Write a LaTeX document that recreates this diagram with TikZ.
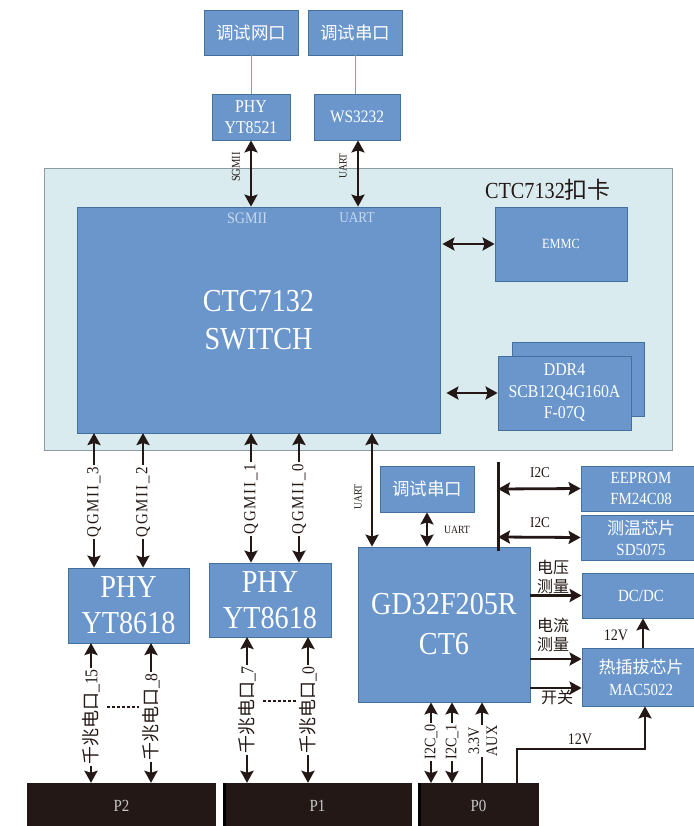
\documentclass[tikz,border=0pt]{standalone}
\usepackage{fontspec}
\setmainfont{Liberation Serif}[FakeStretch=0.88]
\newfontfamily\cjk{Noto Sans CJK SC}
\usetikzlibrary{arrows.meta}
\definecolor{boxblue}{HTML}{6A96CC}
\definecolor{boxedge}{HTML}{41719C}
\definecolor{board}{HTML}{DAEBF0}
\definecolor{boardedge}{HTML}{8C9BA0}
\definecolor{ink}{HTML}{231815}
\definecolor{thinline}{HTML}{7FA890}
\definecolor{ptext}{HTML}{C8C8C8}
\definecolor{faint}{HTML}{C9D8EC}
\newcommand\myfs[2]{\fontsize{#1}{#2}\selectfont}
\newcommand\spaced{\addfontfeature{LetterSpace=10}}
\begin{document}
\begin{tikzpicture}[x=1pt,y=-1pt,
  blk/.style={draw=boxedge,fill=boxblue,line width=0.8pt,text=white,align=center,inner sep=0pt},
  pbox/.style={fill=ink,draw=none,text=ptext,inner sep=0pt,font=\myfs{17}{20}},
  darr/.style={draw=ink,line width=2.8pt,{Stealth[length=12pt,width=13pt,inset=2pt]}-{Stealth[length=12pt,width=13pt,inset=2pt]}},
  sarr/.style={draw=ink,line width=2.8pt,-{Stealth[length=12pt,width=13pt,inset=2pt]}},
  lbl/.style={text=ink,inner sep=1pt},
  rlbl/.style={text=ink,inner sep=1.5pt,fill=white,rotate=90},
  thinln/.style={draw=thinline,line width=0.8pt},
]
\useasboundingbox (0,0) rectangle (693,826);

% ---------- top ----------
\node[blk,minimum width=94pt,minimum height=45pt,font=\cjk\myfs{17.5}{20}] (dwk) at (251,32.5) {调试网口};
\node[blk,minimum width=94pt,minimum height=45pt,font=\cjk\myfs{17.5}{20}] (dck) at (355,32.5) {调试串口};
\node[blk,minimum width=78pt,minimum height=46pt,font=\myfs{18}{21}] (phy1) at (251,117) {PHY\\YT8521};
\node[blk,minimum width=86pt,minimum height=46pt,font=\myfs{17.5}{21}] (ws) at (357,117) {WS3232};
\draw[thinln] (dwk.south) -- (phy1.north);
\draw[thinln] (dck.south) -- (dck.south |- ws.north);

% ---------- board ----------
\node[draw=boardedge,fill=board,line width=0.6pt,minimum width=628pt,minimum height=282pt,inner sep=0pt] (board) at (358,309) {};
\node[lbl,font=\myfs{23}{26}] (brdlbl) at (548,190) {CTC7132{\cjk 扣卡}};
\node[blk,minimum width=363pt,minimum height=226pt,font=\myfs{32}{38}] (sw) at (258.5,320) {CTC7132\\SWITCH};
\node[text=faint,font=\myfs{16}{18},inner sep=0pt] (swsg) at (247,218) {SGMII};
\node[text=faint,font=\myfs{15}{18},inner sep=0pt] (swua) at (357,218) {UART};
\node[blk,minimum width=132pt,minimum height=74pt,font=\myfs{14}{17}] (emmc) at (561,244) {EMMC};
\node[blk,minimum width=132pt,minimum height=74pt] (ddrb) at (578,379) {};
\node[blk,minimum width=133pt,minimum height=74pt,font=\myfs{18}{21.5}] (ddr) at (564.5,393) {DDR4\\SCB12Q4G160A\\F-07Q};

\draw[darr] (phy1.south) -- (phy1.south |- sw.north);
\draw[darr] ([xshift=1pt]ws.south) -- ([xshift=1pt]ws.south |- sw.north);
\node[lbl,rotate=90,font=\myfs{12}{14}] (sglbl) at (236,167) {SGMII};
\node[lbl,rotate=90,font=\myfs{11}{13}] (ualbl) at (343,166) {UART};
\draw[darr] ([xshift=2pt]sw.east |- emmc.west) -- (emmc.west);
\draw[darr] ([xshift=6pt]sw.east |- ddr.west) -- (ddr.west);

% ---------- PHY YT8618 ----------
\node[blk,minimum width=121pt,minimum height=75pt,font=\myfs{32}{36}] (phyA) at (128.5,605.5) {PHY\\YT8618};
\node[blk,minimum width=122pt,minimum height=74pt,font=\myfs{32}{36}] (phyB) at (270,600) {PHY\\YT8618};

\coordinate (q3) at (94,433);
\coordinate (q2) at (143,433);
\coordinate (q1) at (251,433);
\coordinate (q0) at (299,433);
\draw[darr] (q3) -- (q3 |- phyA.north);
\draw[darr] (q2) -- (q2 |- phyA.north);
\draw[darr] (q1) -- (q1 |- phyB.north);
\draw[darr] (q0) -- (q0 |- phyB.north);
\node[rlbl,font=\spaced\myfs{17}{18}] (lq3) at (94,502) {QGMII\_3};
\node[rlbl,font=\spaced\myfs{17}{18}] (lq2) at (143,502) {QGMII\_2};
\node[rlbl,font=\spaced\myfs{17}{18}] (lq1) at (251,499) {QGMII\_1};
\node[rlbl,font=\spaced\myfs{17}{18}] (lq0) at (299,499) {QGMII\_0};

% ---------- P boxes ----------
\node[pbox,minimum width=189pt,minimum height=46pt] (p2) at (121.5,806) {P2};
\node[pbox,minimum width=189pt,minimum height=46pt] (p1) at (317.5,806) {P1};
\node[pbox,minimum width=121pt,minimum height=46pt] (p0) at (478.5,806) {P0};
\draw[black,line width=3pt] ([xshift=1.5pt]p1.north west) -- ([xshift=1.5pt]p1.south west);
\draw[black,line width=3pt] ([xshift=1.5pt]p0.north west) -- ([xshift=1.5pt]p0.south west);

\coordinate (g15) at (91,643);
\coordinate (g8) at (151,643);
\coordinate (g7) at (247,637);
\coordinate (g0) at (308,637);
\draw[darr] (g15) -- (g15 |- p2.north);
\draw[darr] (g8) -- (g8 |- p2.north);
\draw[darr] (g7) -- (g7 |- p1.north);
\draw[darr] (g0) -- (g0 |- p1.north);
\node[rlbl,font=\myfs{18}{18}] (lg15) at (91,717) {{\cjk 千兆电口}\_15};
\node[rlbl,font=\myfs{18}{18}] (lg8) at (151,717) {{\cjk 千兆电口}\_8};
\node[rlbl,font=\myfs{18}{18}] (lg7) at (247,710) {{\cjk 千兆电口}\_7};
\node[rlbl,font=\myfs{18}{18}] (lg0) at (308,710) {{\cjk 千兆电口}\_0};
\coordinate (d1a) at (107,707);
\coordinate (d1b) at (139,707);
\coordinate (d2a) at (263,701);
\coordinate (d2b) at (296,701);
\draw[ink,line width=2pt,dash pattern=on 3pt off 2pt] (d1a) -- (d1b);
\draw[ink,line width=2pt,dash pattern=on 3pt off 2pt] (d2a) -- (d2b);

% ---------- GD32 ----------
\node[blk,minimum width=172pt,minimum height=155pt,font=\myfs{32}{40}] (gd) at (444,624.5) {GD32F205R\\CT6};
\node[blk,minimum width=94pt,minimum height=46pt,font=\cjk\myfs{17.5}{20}] (dbg) at (427,489) {调试串口};
\coordinate (u2) at (372,433);
\draw[darr] (u2) -- (u2 |- gd.north);
\node[lbl,rotate=90,font=\myfs{11}{13}] (ualbl2) at (358,497) {UART};
\draw[darr] (dbg.south) -- (dbg.south |- gd.north);
\node[lbl,font=\myfs{11}{13}] (ualbl3) at (457,530) {UART};

\node[blk,minimum width=120pt,minimum height=45pt,font=\myfs{17}{21}] (eep) at (641,488.5) {EEPROM\\FM24C08};
\node[blk,minimum width=120pt,minimum height=45pt,font=\myfs{17}{21}] (temp) at (641,537.5) {{\cjk 测温芯片}\\SD5075};
\node[blk,minimum width=118pt,minimum height=45pt,font=\myfs{17}{21}] (dcdc) at (641,595.5) {DC/DC};
\node[blk,minimum width=118pt,minimum height=58pt,font=\myfs{17}{22}] (hot) at (641,677) {{\cjk 热插拔芯片}\\MAC5022};

\coordinate (busT) at (498,462);
\coordinate (busB) at (498,551);
\coordinate (busI1) at (498,489);
\coordinate (busI2) at (498,537);
\draw[ink,line width=3pt] (busT) -- (busB);
\draw[darr] (busI1) -- (eep.west);
\draw[darr] (busI2) -- (temp.west);
\node[lbl,font=\myfs{15}{18}] (i2c1) at (540,473) {I2C};
\node[lbl,font=\myfs{15}{18}] (i2c2) at (540,523) {I2C};

\node[lbl,font=\cjk\myfs{16}{19},align=center] (vlbl) at (553,577) {电压\\测量};
\node[lbl,font=\cjk\myfs{16}{19},align=center] (ilbl) at (553,635) {电流\\测量};
\node[lbl,font=\cjk\myfs{16}{19}] (swlbl) at (557,697) {开关};
\coordinate (hi) at (530,659);
\coordinate (hs) at (530,688);
\draw[sarr] (gd.east |- dcdc.west) -- (dcdc.west);
\draw[sarr] (hi) -- (hi -| hot.west);
\draw[sarr] (hs) -- (hs -| hot.west);

\coordinate (v12s) at (643,648);
\draw[sarr] (v12s) -- (v12s |- dcdc.south);
\node[lbl,font=\myfs{16}{18}] (v12a) at (616,635) {12V};

% ---------- bottom of GD32 ----------
\coordinate (b0) at (431,783);
\coordinate (b1) at (452,783);
\coordinate (b3) at (482,783);
\draw[darr] (b0) -- (b0 |- gd.south);
\draw[darr] (b1) -- (b1 |- gd.south);
\draw[sarr] (b3) -- (b3 |- gd.south);
\node[rlbl,font=\myfs{16}{18}] (li0) at (431,742) {I2C\_0};
\node[rlbl,font=\myfs{16}{18}] (li1) at (452,742) {I2C\_1};
\node[rlbl,font=\myfs{16}{18},align=center,inner sep=0.5pt] (l33) at (483,741) {3.3V\\AUX};

\coordinate (pw0) at (517,783);
\coordinate (pw1) at (517,749);
\coordinate (pw2) at (645,749);
\draw[ink,line width=2.8pt,-{Stealth[length=12pt,width=13pt,inset=2pt]}] (pw0) -- (pw1) -- (pw2) -- (pw2 |- hot.south);
\node[lbl,font=\myfs{16}{18}] (v12b) at (580,739) {12V};
\end{tikzpicture}
\end{document}
